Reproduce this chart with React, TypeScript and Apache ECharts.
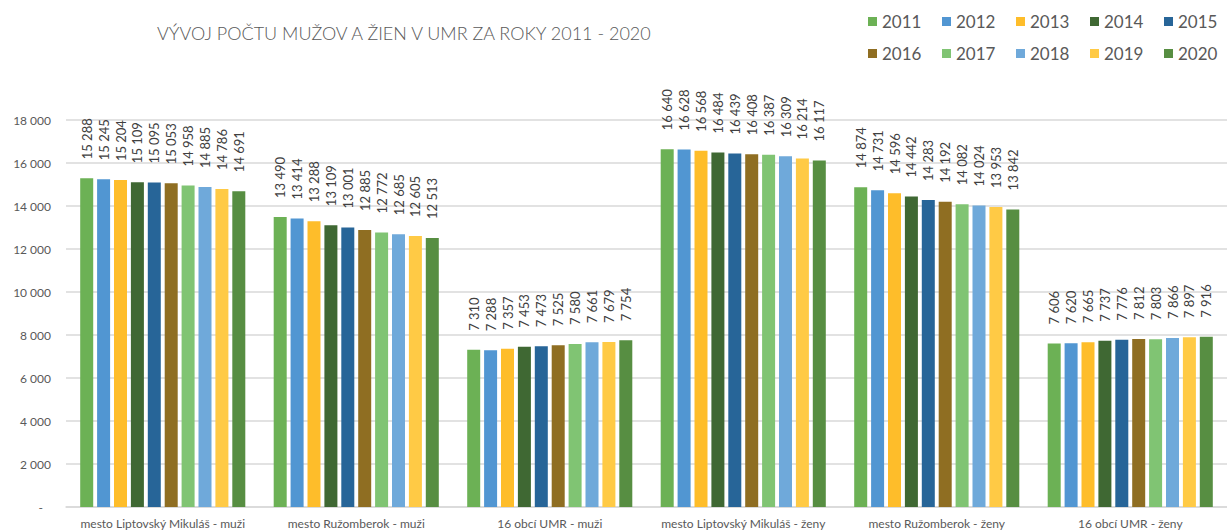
import React, { useEffect, useRef } from "react";
import * as echarts from "echarts";

const categories = [
  "mesto Liptovský Mikuláš - muži",
  "mesto Ružomberok - muži",
  "16 obcí UMR - muži",
  "mesto Liptovský Mikuláš - ženy",
  "mesto Ružomberok - ženy",
  "16 obcí UMR - ženy",
];

const years = ["2011", "2012", "2013", "2014", "2015", "2016", "2017", "2018", "2019", "2020"];

const v2011 = [15288, 13490, 7310, 16640, 14874, 7606];
const v2012 = [15245, 13414, 7288, 16628, 14731, 7620];
const v2013 = [15204, 13288, 7357, 16568, 14596, 7665];
const v2014 = [15109, 13109, 7453, 16484, 14442, 7737];
const v2015 = [15095, 13001, 7473, 16439, 14283, 7776];
const v2016 = [15053, 12885, 7525, 16408, 14192, 7812];
const v2017 = [14958, 12772, 7580, 16387, 14082, 7803];
const v2018 = [14885, 12685, 7661, 16309, 14024, 7866];
const v2019 = [14786, 12605, 7679, 16214, 13953, 7897];
const v2020 = [14691, 12513, 7754, 16117, 13842, 7916];

const seriesValues = [v2011, v2012, v2013, v2014, v2015, v2016, v2017, v2018, v2019, v2020];

const colors = [
  "#6CB155",
  "#5196D2",
  "#FEBD2A",
  "#3F6833",
  "#276598",
  "#8F6E22",
  "#80C473",
  "#6FA9DA",
  "#FFCA45",
  "#578E42",
];

const title = "VÝVOJ POČTU MUŽOV A ŽIEN V UMR ZA ROKY 2011 - 2020";

const FONT = "Lato, 'Open Sans', sans-serif";

const fmt = (v: number) => String(v).replace(/\B(?=(\d{3})+(?!\d))/g, " ");

export default function App() {
  const ref = useRef<HTMLDivElement>(null);
  useEffect(() => {
    if (!ref.current) return;
    const chart = echarts.init(ref.current, undefined, { renderer: "svg" });
    chart.setOption({
      animation: false,
      backgroundColor: "#ffffff",
      color: colors,
      textStyle: { fontFamily: FONT },
      title: {
        text: title,
        left: 152,
        top: 19,
        textStyle: { fontSize: 18, fontWeight: 300, color: "#595959", fontFamily: FONT },
      },
      legend: years.map((y, i) => ({
        data: [y],
        left: 863 + (i % 5) * 74,
        top: i < 5 ? 8 : 40,
        icon: "rect",
        itemWidth: 9,
        itemHeight: 9,
        itemGap: 5,
        textStyle: { fontSize: 17, color: "#595959", fontFamily: FONT },
        selectedMode: false,
      })),
      grid: { left: 66, right: -9, top: 120, bottom: 25, containLabel: false },
      xAxis: {
        type: "category",
        data: categories,
        axisLine: { show: true, lineStyle: { color: "#d9d9d9", width: 1.5 } },
        axisTick: { show: false },
        axisLabel: { fontSize: 12, color: "#595959", margin: 10, interval: 0, fontFamily: FONT },
      },
      yAxis: {
        type: "value",
        min: 0,
        max: 18000,
        interval: 2000,
        axisLine: { show: false },
        axisTick: { show: false },
        splitLine: { lineStyle: { color: "#d9d9d9", width: 1.5 } },
        axisLabel: {
          fontSize: 12,
          color: "#595959",
          margin: 15,
          fontFamily: FONT,
          formatter: (v: number) => (v === 0 ? "{d|-}" : fmt(v)),
          rich: { d: { fontSize: 12, color: "#595959", padding: [0, 8, 0, 0] } },
        },
      },
      series: seriesValues.map((vals, i) => ({
        name: years[i],
        type: "bar",
        data: vals,
        barWidth: 13,
        barGap: "30%",
        itemStyle: { color: colors[i] },
        label: {
          show: true,
          position: "top",
          rotate: 90,
          align: "left",
          verticalAlign: "middle",
          distance: 19,
          fontSize: 13,
          color: "#404040",
          fontFamily: FONT,
          formatter: (p: any) => fmt(p.value),
        },
      })),
    });
    return () => chart.dispose();
  }, []);
  return (
    <div
      ref={ref}
      style={{ position: "fixed", left: 0, top: 0, width: 1227, height: 532, background: "#fff" }}
    />
  );
}
